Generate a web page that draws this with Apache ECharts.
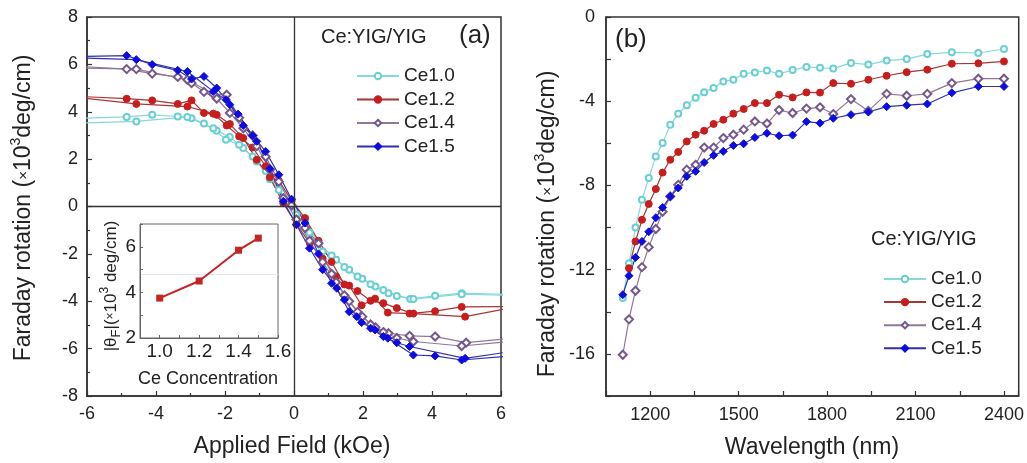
<!DOCTYPE html>
<html>

<head>
	<meta charset="utf-8" />
	<title>Ce:YIG/YIG Faraday rotation</title>
	<script src="https://cdn.jsdelivr.net/npm/echarts@6/dist/echarts.min.js"></script>
	<style>
		* {
			margin: 0;
			padding: 0;
		}

		html,
		body {
			width: 1027px;
			height: 463px;
			background: #fff;
		}

		#main {
			width: 1027px;
			height: 463px;
		}
	</style>
</head>

<body>
	<div id="main"></div>
	<script>
		// ---- data ----
		var names = ['Ce1.0', 'Ce1.2', 'Ce1.4', 'Ce1.5'];

		// (a) hysteresis loops, two branches per sample: [field kOe, rotation]
		var loop10a = [[-6.4, 3.72], [-4.85, 3.78], [-4.11, 3.87], [-3.37, 3.80], [-2.97, 3.73], [-2.61, 3.50], [-2.24, 3.20], [-1.86, 2.93], [-1.47, 2.47], [-1.08, 1.90], [-0.70, 1.15], [-0.31, 0.35], [0.07, -0.35], [0.45, -1.10], [0.83, -1.90], [1.22, -2.25], [1.60, -2.67], [1.98, -3.05], [2.36, -3.38], [2.74, -3.66], [3.37, -3.90], [4.09, -3.77], [4.86, -3.66], [6.4, -3.72]];
		var loop10b = [[-6.4, 3.52], [-4.57, 3.59], [-3.09, 3.78], [-2.34, 3.30], [-1.97, 2.82], [-1.59, 2.61], [-1.20, 2.11], [-0.82, 1.50], [-0.44, 0.70], [-0.07, 0.05], [0.32, -0.60], [0.71, -1.55], [1.09, -2.07], [1.46, -2.55], [1.84, -2.96], [2.22, -3.28], [2.59, -3.52], [2.98, -3.78], [3.46, -3.91], [4.86, -3.70], [6.4, -3.76]];
		var loop12a = [[-6.4, 4.66], [-4.85, 4.55], [-4.11, 4.48], [-3.37, 4.33], [-2.97, 4.48], [-2.61, 3.95], [-2.24, 3.87], [-1.86, 3.48], [-1.47, 2.89], [-1.08, 1.97], [-0.70, 1.23], [-0.31, 0.14], [0.07, -0.75], [0.46, -1.55], [0.83, -2.20], [1.22, -2.95], [1.60, -3.34], [1.96, -4.17], [2.35, -3.89], [2.72, -4.48], [3.35, -4.52], [4.09, -4.42], [4.86, -4.24], [6.4, -4.22]];
		var loop12b = [[-6.4, 4.62], [-4.57, 4.33], [-3.09, 4.22], [-2.34, 3.92], [-1.95, 3.42], [-1.59, 2.96], [-1.20, 2.49], [-0.82, 1.70], [-0.44, 1.09], [-0.07, 0.25], [0.32, -0.49], [0.71, -1.45], [1.09, -2.34], [1.46, -3.29], [1.84, -3.57], [2.22, -3.98], [2.59, -4.08], [2.98, -4.29], [3.46, -4.52], [4.96, -4.65], [6.4, -4.25]];
		var loop14a = [[-6.4, 5.93], [-4.85, 5.80], [-4.11, 5.61], [-3.37, 5.47], [-2.97, 5.21], [-2.61, 4.84], [-2.24, 4.56], [-1.86, 3.95], [-1.47, 3.30], [-1.08, 2.55], [-0.70, 1.55], [-0.31, 0.35], [0.07, -0.55], [0.45, -1.45], [0.83, -2.35], [1.22, -3.20], [1.60, -4.00], [1.98, -4.65], [2.36, -5.10], [2.74, -5.35], [3.35, -5.46], [4.09, -5.49], [4.99, -5.75], [6.4, -5.55]];
		var loop14b = [[-6.4, 5.85], [-4.57, 5.80], [-3.09, 5.35], [-2.34, 4.75], [-1.95, 4.72], [-1.59, 3.75], [-1.20, 3.00], [-0.82, 2.10], [-0.44, 1.05], [-0.07, 0.05], [0.32, -0.91], [0.71, -1.55], [1.09, -2.85], [1.46, -3.75], [1.84, -4.45], [2.22, -4.98], [2.59, -5.30], [2.98, -5.55], [3.46, -5.70], [4.86, -5.89], [6.4, -5.68]];
		var loop15a = [[-6.4, 6.33], [-4.85, 6.37], [-4.11, 5.99], [-3.37, 5.75], [-2.97, 5.38], [-2.61, 5.49], [-2.24, 5.00], [-1.86, 4.30], [-1.47, 3.42], [-1.08, 2.75], [-0.70, 1.60], [-0.31, 0.22], [0.07, -0.77], [0.45, -1.76], [0.83, -2.67], [1.24, -3.45], [1.60, -4.44], [1.96, -4.90], [2.35, -5.21], [2.72, -5.56], [3.46, -6.27], [4.09, -6.31], [4.86, -6.48], [6.4, -6.30]];
		var loop15b = [[-6.4, 6.28], [-4.57, 6.20], [-3.09, 5.70], [-2.34, 4.86], [-1.97, 4.51], [-1.62, 3.90], [-1.20, 2.99], [-0.82, 2.32], [-0.44, 1.34], [-0.07, 0.31], [0.32, -0.70], [0.71, -2.00], [1.09, -3.24], [1.46, -3.94], [1.82, -4.65], [2.22, -5.14], [2.59, -5.49], [2.98, -5.75], [3.35, -5.91], [4.96, -6.41], [6.4, -6.10]];

		// inset: |theta_F| vs Ce concentration
		var insetCe = [1.0, 1.2, 1.4, 1.5];
		var insetTheta = [3.75, 4.50, 5.85, 6.38];
		var insetRef = 4.8;

		// (b) spectra
		var wl = [1107, 1128, 1150, 1172, 1195, 1219, 1242, 1268, 1295, 1324, 1354, 1383, 1415, 1448, 1482, 1517, 1555, 1596, 1637, 1683, 1730, 1776, 1821, 1881, 1940, 2002, 2070, 2140, 2223, 2313, 2400];
		var spec10 = [-13.35, -11.7, -10.0, -8.68, -7.65, -6.62, -5.99, -5.12, -4.60, -4.19, -3.83, -3.57, -3.37, -3.06, -2.98, -2.70, -2.63, -2.54, -2.70, -2.52, -2.37, -2.41, -2.45, -2.18, -2.26, -2.07, -2.00, -1.76, -1.68, -1.71, -1.52];
		var spec12 = [null, -11.93, -10.66, -9.63, -8.88, -8.17, -7.39, -6.78, -6.41, -5.91, -5.59, -5.40, -5.08, -4.88, -4.59, -4.37, -4.09, -4.09, -3.69, -3.82, -3.58, -3.59, -3.14, -3.17, -2.98, -2.79, -2.62, -2.50, -2.22, -2.20, -2.11];
		var spec14 = [-16.04, -14.36, -13.0, -11.88, -10.93, -10.07, -9.25, -8.52, -7.97, -7.25, -7.02, -6.20, -6.20, -5.75, -5.59, -5.35, -4.96, -5.06, -4.42, -4.56, -4.35, -4.29, -4.61, -3.90, -4.46, -3.65, -3.74, -3.65, -3.14, -2.93, -2.93];
		var spec15 = [-13.19, -12.29, -11.42, -10.66, -10.2, -9.53, -9.05, -8.52, -8.12, -7.57, -7.33, -6.91, -6.57, -6.38, -6.10, -6.02, -5.72, -5.52, -5.64, -5.61, -4.97, -5.04, -4.81, -4.64, -4.51, -4.26, -4.19, -4.13, -3.60, -3.30, -3.30];

		// ---- styles ----
		var FONT = 'Liberation Sans, Arial, sans-serif';
		var AXIS = '#333';
		var looks = {
			'Ce1.0': { symbol: 'emptyCircle', size: 6, color: '#69cfd2', line: '#86d9db' },
			'Ce1.2': { symbol: 'circle', size: 7, color: '#c81d1d', line: '#a83434' },
			'Ce1.4': { symbol: 'emptyDiamond', size: 8, color: '#75588a', line: '#8e7898' },
			'Ce1.5': { symbol: 'diamond', size: 8, color: '#0c0ce0', line: '#3030b0' }
		};

		function lineSeries(name, data, xi, yi) {
			var lk = looks[name];
			return {
				name: name,
				type: 'line',
				xAxisIndex: xi,
				yAxisIndex: yi,
				data: data,
				symbol: lk.symbol,
				symbolSize: lk.size,
				showAllSymbol: true,
				clip: true,
				itemStyle: { color: lk.color, borderColor: lk.color, borderWidth: 1 },
				lineStyle: { color: lk.line, width: 1.2 },
				emphasis: { disabled: true },
				z: 3
			};
		}

		function spectrum(vals) {
			var out = [];
			for (var i = 0; i < wl.length; i++) {
				if (vals[i] !== null) out.push([wl[i], vals[i]]);
			}
			return out;
		}

		function mainAxis(gi, opt) {
			var ax = {
				gridIndex: gi,
				type: 'value',
				min: opt.min,
				max: opt.max,
				interval: opt.interval,
				axisLine: { show: true, onZero: false, lineStyle: { color: AXIS, width: 1.5 } },
				axisTick: { show: true, inside: true, length: 5, lineStyle: { color: AXIS, width: 1.2 } },
				minorTick: { show: !!opt.minor, splitNumber: 2, length: 3, lineStyle: { color: AXIS, width: 1.2 } },
				splitLine: { show: false },
				axisLabel: {
					margin: opt.margin,
					fontSize: 18,
					fontFamily: FONT,
					color: '#222',
					formatter: opt.formatter
				}
			};
			return ax;
		}

		var legendText = { fontSize: 19, fontFamily: FONT, color: '#222', lineHeight: 20 };

		var yTitleRich = {
			s: { fontSize: 15, fontFamily: FONT, fill: '#222' },
			sup: { fontSize: 14, fontFamily: FONT, fill: '#222', verticalAlign: 'top', lineHeight: 30 }
		};

		var option = {
			animation: false,
			backgroundColor: '#fff',
			grid: [
				{ left: 87, top: 17, width: 414, height: 379, show: true, borderColor: AXIS, borderWidth: 1.5, backgroundColor: 'transparent' },
				{ left: 606, top: 17, width: 414, height: 379, show: true, borderColor: AXIS, borderWidth: 1.5, backgroundColor: 'transparent' },
				{ left: 140, top: 224, width: 138, height: 114, show: true, borderColor: '#666', borderWidth: 1, backgroundColor: '#fff', z: 5 }
			],
			xAxis: [
				mainAxis(0, { min: -6, max: 6, interval: 2, minor: true, margin: 9 }),
				mainAxis(1, {
					min: 1050, max: 2450, interval: 150, margin: 10,
					formatter: function (v) { return v % 300 === 0 ? String(v) : ''; }
				}),
				{
					gridIndex: 2, type: 'value', min: 0.9, max: 1.6, interval: 0.1,
					axisLine: { show: true, onZero: false, lineStyle: { color: '#666', width: 1 } },
					axisTick: { show: true, inside: true, length: 3, lineStyle: { color: '#666' } },
					splitLine: { show: false },
					axisLabel: {
						margin: 4, fontSize: 19, fontFamily: FONT, color: '#222',
						formatter: function (v) {
							var r = Math.round(v * 10);
							return (r % 2 === 0) ? (r / 10).toFixed(1) : '';
						}
					},
					z: 6
				}
			],
			yAxis: [
				mainAxis(0, { min: -8, max: 8, interval: 2, minor: true, margin: 9 }),
				mainAxis(1, {
					min: -18, max: 0, interval: 2, margin: 11,
					formatter: function (v) { return v % 4 === 0 ? String(v) : ''; }
				}),
				{
					gridIndex: 2, type: 'value', min: 2, max: 7, interval: 1,
					axisLine: { show: true, onZero: false, lineStyle: { color: '#666', width: 1 } },
					axisTick: { show: true, inside: true, length: 3, lineStyle: { color: '#666' } },
					splitLine: { show: false },
					axisLabel: {
						margin: 4, fontSize: 19, fontFamily: FONT, color: '#222',
						formatter: function (v) { return v % 2 === 0 ? String(v) : ''; }
					},
					z: 6
				}
			],
			legend: [
				{
					data: names, orient: 'vertical', left: 351, top: 61,
					itemWidth: 42, itemHeight: 8, itemGap: 3.5,
					textStyle: legendText, selectedMode: false
				},
				{
					data: names, orient: 'vertical', left: 878, top: 264,
					itemWidth: 42, itemHeight: 8, itemGap: 3.1,
					textStyle: legendText, selectedMode: false
				}
			],
			graphic: [
				{ type: 'text', left: 321, top: 27, style: { text: 'Ce:YIG/YIG', font: '20px ' + FONT, fill: '#222' } },
				{ type: 'text', left: 459, top: 23, style: { text: '(a)', font: '26px ' + FONT, fill: '#222' } },
				{ type: 'text', left: 615, top: 27, style: { text: '(b)', font: '26px ' + FONT, fill: '#222' } },
				{ type: 'text', left: 871, top: 229, style: { text: 'Ce:YIG/YIG', font: '20px ' + FONT, fill: '#222' } },
				{
					type: 'text', x: 292, y: 447,
					style: { text: 'Applied Field (kOe)', font: '23px ' + FONT, fill: '#222', align: 'center', verticalAlign: 'middle' }
				},
				{
					type: 'text', x: 812, y: 448,
					style: { text: 'Wavelength (nm)', font: '23px ' + FONT, fill: '#222', align: 'center', verticalAlign: 'middle' }
				},
				{
					type: 'text', x: 24, y: 208, rotation: Math.PI / 2,
					style: {
						text: 'Faraday rotation ({s|×}10{sup|3}deg/cm)', font: '23px ' + FONT, fill: '#222',
						align: 'center', verticalAlign: 'middle', rich: yTitleRich
					}
				},
				{
					type: 'text', x: 548, y: 224, rotation: Math.PI / 2,
					style: {
						text: 'Faraday rotation ({s|×}10{sup|3}deg/cm)', font: '23px ' + FONT, fill: '#222',
						align: 'center', verticalAlign: 'middle', rich: yTitleRich
					}
				},
				{
					type: 'text', x: 111, y: 286, rotation: Math.PI / 2, z: 10,
					style: {
						text: '|θ{sub|F}|({s|×}10{sup|3} deg/cm)', font: '17px ' + FONT, fill: '#222',
						align: 'center', verticalAlign: 'middle',
						rich: {
							sub: { fontSize: 13, fontFamily: FONT, fill: '#222', verticalAlign: 'bottom', lineHeight: 24 },
							s: { fontSize: 12, fontFamily: FONT, fill: '#222' },
							sup: { fontSize: 12, fontFamily: FONT, fill: '#222', verticalAlign: 'top', lineHeight: 24 }
						}
					}
				},
				{
					type: 'text', x: 208, y: 379, z: 10,
					style: { text: 'Ce Concentration', font: '18px ' + FONT, fill: '#222', align: 'center', verticalAlign: 'middle' }
				}
			],
			series: [
				// panel (a)
				Object.assign(lineSeries('Ce1.0', loop10a, 0, 0), {
					markLine: {
						silent: true, symbol: 'none', animation: false,
						label: { show: false },
						lineStyle: { color: AXIS, width: 1.3, type: 'solid' },
						data: [{ xAxis: 0 }, { yAxis: 0 }]
					}
				}),
				lineSeries('Ce1.0', loop10b, 0, 0),
				lineSeries('Ce1.2', loop12a, 0, 0),
				lineSeries('Ce1.2', loop12b, 0, 0),
				lineSeries('Ce1.4', loop14a, 0, 0),
				lineSeries('Ce1.4', loop14b, 0, 0),
				lineSeries('Ce1.5', loop15a, 0, 0),
				lineSeries('Ce1.5', loop15b, 0, 0),
				// panel (b)
				lineSeries('Ce1.0', spectrum(spec10), 1, 1),
				lineSeries('Ce1.2', spectrum(spec12), 1, 1),
				lineSeries('Ce1.4', spectrum(spec14), 1, 1),
				lineSeries('Ce1.5', spectrum(spec15), 1, 1),
				// inset
				{
					name: 'inset',
					type: 'line',
					xAxisIndex: 2,
					yAxisIndex: 2,
					data: insetCe.map(function (c, i) { return [c, insetTheta[i]]; }),
					symbol: 'rect',
					symbolSize: 7,
					itemStyle: { color: '#c42424' },
					lineStyle: { color: '#c42424', width: 2 },
					z: 7,
					markLine: {
						silent: true, symbol: 'none', animation: false,
						label: { show: false },
						lineStyle: { color: '#e4e4e4', width: 1, type: 'solid' },
						data: [{ yAxis: insetRef }]
					}
				}
			]
		};

		var chart = echarts.init(document.getElementById('main'), null, { renderer: 'canvas' });
		chart.setOption(option);
	</script>
</body>

</html>
